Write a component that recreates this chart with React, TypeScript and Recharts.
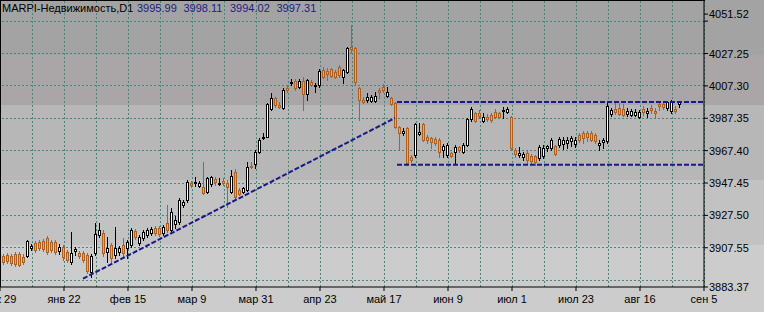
import React from "react";
import { Bar, ComposedChart, ReferenceLine, XAxis, YAxis } from "recharts";

// MARPI-Недвижимость, D1 — 170 daily bars, oldest first
const opens = [
  3902.6, 3903.2, 3902.6, 3903.9, 3903.9, 3902.0, 3902.6, 3907.6, 3910.6, 3911.3,
  3911.9, 3913.7, 3911.3, 3911.3, 3905.7, 3908.2, 3905.1, 3898.9, 3905.7, 3904.5,
  3904.5, 3903.2, 3892.8, 3904.5, 3915.6, 3916.8, 3905.1, 3909.4, 3903.2, 3905.1,
  3909.4, 3907.6, 3909.4, 3918.0, 3910.6, 3913.7, 3915.6, 3916.8, 3919.9, 3919.9,
  3916.8, 3923.0, 3918.6, 3922.3, 3923.6, 3934.0, 3937.1, 3947.6, 3947.6, 3945.7,
  3945.1, 3942.0, 3947.0, 3950.0, 3947.0, 3948.8, 3947.6, 3942.0, 3954.4, 3943.3,
  3942.0, 3943.3, 3958.0, 3959.3, 3966.7, 3975.3, 3975.9, 3993.1, 3999.9, 3995.6,
  3993.8, 4006.1, 4009.1, 4010.4, 4006.7, 4010.4, 4002.4, 4009.8, 4007.3, 4007.9,
  4017.2, 4016.5, 4017.8, 4015.9, 4019.0, 4012.8, 4015.9, 4031.3, 4030.7, 4006.1,
  3998.7, 3998.7, 3998.1, 3998.1, 4004.8, 4006.7, 4001.1, 3999.9, 3996.8, 3982.1,
  3978.4, 3981.4, 3963.6, 3964.8, 3977.7, 3983.9, 3975.9, 3975.3, 3974.7, 3974.1,
  3967.9, 3964.8, 3966.0, 3966.7, 3969.7, 3966.7, 3971.0, 3987.0, 3990.7, 3990.7,
  3985.8, 3988.2, 3989.4, 3991.3, 3990.7, 3991.9, 3991.3, 3988.2, 3967.9, 3964.8,
  3963.6, 3966.0, 3964.2, 3964.2, 3963.0, 3964.2, 3969.1, 3969.1, 3970.4, 3971.0,
  3971.6, 3972.2, 3973.4, 3971.6, 3977.1, 3978.4, 3978.4, 3978.4, 3977.1, 3971.0,
  3972.8, 3973.4, 3990.1, 3993.1, 3993.8, 3993.1, 3990.1, 3989.4, 3989.4, 3988.2,
  3993.1, 3990.7, 3993.8, 3991.9, 3996.2, 3996.2, 3993.8, 3991.9, 3993.1, 3995.99,
];
const highs = [
  3903.9, 3904.5, 3903.9, 3905.1, 3905.1, 3903.9, 3912.5, 3910.0, 3911.9, 3912.5,
  3913.1, 3914.9, 3912.5, 3912.5, 3910.0, 3909.4, 3906.3, 3917.4, 3908.2, 3905.7,
  3905.7, 3904.5, 3903.9, 3923.0, 3923.0, 3918.6, 3914.3, 3910.6, 3920.5, 3908.8,
  3913.7, 3912.5, 3919.9, 3919.3, 3915.6, 3918.6, 3919.9, 3920.5, 3921.1, 3921.1,
  3921.7, 3934.0, 3932.2, 3927.3, 3938.3, 3937.1, 3949.4, 3948.8, 3951.3, 3948.8,
  3960.5, 3951.3, 3951.9, 3951.3, 3950.7, 3950.7, 3949.4, 3955.6, 3956.2, 3944.5,
  3945.1, 3960.5, 3960.5, 3967.9, 3975.3, 3978.4, 3996.8, 4003.0, 4000.5, 3997.5,
  4006.1, 4007.9, 4011.6, 4011.6, 4011.6, 4012.8, 4011.6, 4011.0, 4009.1, 4017.8,
  4019.0, 4018.4, 4018.4, 4017.2, 4020.2, 4017.8, 4031.3, 4044.9, 4031.3, 4006.7,
  4000.5, 4003.0, 4001.8, 4003.6, 4006.1, 4008.5, 4006.7, 4000.5, 3997.5, 3982.7,
  3981.4, 3982.1, 3964.8, 3984.5, 3984.5, 3984.5, 3977.1, 3975.9, 3975.9, 3975.3,
  3971.6, 3972.2, 3966.7, 3971.0, 3970.4, 3972.2, 3987.6, 3994.4, 3991.3, 3992.5,
  3990.7, 3990.1, 3990.7, 3993.1, 3991.3, 3994.4, 3994.4, 3988.8, 3969.1, 3969.7,
  3966.7, 3967.3, 3965.4, 3964.8, 3971.0, 3971.0, 3971.0, 3975.3, 3971.0, 3975.9,
  3975.9, 3975.9, 3976.5, 3975.9, 3978.4, 3979.6, 3979.6, 3979.6, 3978.4, 3974.1,
  3975.3, 3998.1, 3993.8, 3996.8, 3996.8, 3996.2, 3993.8, 3993.1, 3993.1, 3992.5,
  3995.0, 3993.8, 3995.6, 3993.8, 3997.5, 3997.5, 3998.1, 3998.3, 3995.0, 3998.11,
];
const lows = [
  3897.7, 3898.3, 3897.1, 3896.5, 3896.5, 3897.7, 3902.0, 3906.3, 3905.1, 3906.3,
  3905.7, 3903.9, 3905.1, 3903.9, 3903.9, 3900.2, 3898.9, 3897.7, 3903.2, 3901.4,
  3898.9, 3892.2, 3889.7, 3903.2, 3914.3, 3902.6, 3898.9, 3898.9, 3901.4, 3903.2,
  3901.4, 3901.4, 3908.2, 3913.1, 3909.4, 3912.5, 3914.3, 3915.6, 3915.6, 3914.9,
  3915.6, 3917.4, 3916.8, 3919.9, 3922.3, 3932.8, 3935.9, 3945.1, 3945.7, 3945.1,
  3940.8, 3941.4, 3945.7, 3946.3, 3946.3, 3946.3, 3932.8, 3941.4, 3938.3, 3940.2,
  3941.4, 3942.7, 3956.8, 3956.8, 3966.0, 3974.7, 3975.9, 3992.5, 3994.4, 3993.8,
  3993.1, 4003.6, 4007.9, 4004.8, 4006.1, 3992.5, 3998.7, 4007.3, 4003.6, 4006.7,
  4012.2, 4011.0, 4012.8, 4012.2, 4012.8, 4009.1, 4015.3, 4028.2, 4007.9, 3986.4,
  3996.8, 3997.5, 3997.5, 3997.5, 3999.9, 4003.6, 4000.5, 3995.6, 3981.4, 3967.9,
  3977.1, 3958.7, 3960.5, 3963.6, 3977.1, 3973.4, 3972.2, 3969.1, 3971.0, 3963.6,
  3963.6, 3963.6, 3963.6, 3959.9, 3966.7, 3966.0, 3970.4, 3985.8, 3985.1, 3987.6,
  3985.1, 3985.8, 3985.1, 3987.6, 3987.9, 3987.6, 3990.7, 3967.9, 3963.6, 3963.6,
  3961.7, 3959.9, 3959.3, 3958.7, 3961.7, 3963.0, 3967.3, 3967.9, 3964.8, 3969.7,
  3968.5, 3969.1, 3970.4, 3969.7, 3972.8, 3972.2, 3973.4, 3973.4, 3972.2, 3967.9,
  3969.1, 3972.2, 3988.8, 3990.1, 3989.4, 3989.0, 3988.8, 3988.8, 3988.9, 3987.6,
  3989.4, 3988.2, 3990.7, 3987.6, 3992.5, 3993.1, 3992.5, 3990.7, 3990.7, 3994.02,
];
const closes = [
  3898.9, 3899.6, 3898.3, 3897.7, 3897.1, 3898.9, 3911.9, 3908.8, 3906.3, 3907.6,
  3906.9, 3905.1, 3906.3, 3905.1, 3908.2, 3902.0, 3900.2, 3904.5, 3906.9, 3902.6,
  3900.2, 3893.4, 3902.6, 3916.2, 3918.6, 3904.5, 3907.6, 3901.4, 3907.6, 3907.6,
  3904.5, 3911.3, 3918.6, 3914.3, 3914.3, 3917.4, 3918.6, 3919.3, 3916.8, 3916.2,
  3920.5, 3918.6, 3929.7, 3924.8, 3937.1, 3935.9, 3948.2, 3946.3, 3948.2, 3947.6,
  3941.4, 3950.7, 3951.3, 3948.2, 3947.6, 3947.6, 3945.1, 3951.9, 3939.0, 3940.8,
  3944.5, 3957.4, 3957.4, 3966.7, 3974.1, 3975.9, 3996.2, 3999.9, 3995.6, 3994.4,
  4004.8, 4004.8, 4009.8, 4006.1, 4010.4, 4002.4, 4011.0, 4007.9, 4007.9, 4016.5,
  4012.8, 4014.7, 4013.5, 4012.8, 4014.1, 4017.2, 4030.7, 4030.1, 4009.8, 3998.7,
  3997.5, 4000.5, 4000.5, 4001.1, 4003.6, 4004.8, 4003.6, 3996.2, 3982.1, 3978.4,
  3979.6, 3959.9, 3961.7, 3983.9, 3979.0, 3974.1, 3974.1, 3972.8, 3972.2, 3966.7,
  3970.4, 3971.0, 3964.2, 3969.7, 3967.9, 3971.0, 3987.0, 3993.1, 3985.8, 3988.8,
  3988.2, 3987.0, 3986.4, 3988.2, 3988.2, 3992.5, 3993.1, 3969.1, 3965.4, 3966.0,
  3965.4, 3961.7, 3961.1, 3960.5, 3969.7, 3969.1, 3970.4, 3974.1, 3965.4, 3974.7,
  3974.1, 3974.1, 3975.3, 3974.1, 3974.1, 3975.3, 3975.9, 3974.1, 3973.4, 3972.2,
  3974.1, 3995.0, 3992.5, 3991.3, 3990.1, 3989.4, 3991.9, 3991.9, 3991.3, 3991.3,
  3991.3, 3991.9, 3992.5, 3990.7, 3995.0, 3994.4, 3997.5, 3998.1, 3991.9, 3997.31,
];

// one label every 16 bars, starting at the chart's left edge
const dateLabels = ["дек 29", "янв 22", "фев 15", "мар 9", "мар 31", "апр 23", "май 17", "июн 9", "июл 1", "июл 23", "авг 16", "сен 5"];
const priceLabels = [4051.52, 4027.25, 4007.3, 3987.35, 3967.4, 3947.45, 3927.5, 3907.55, 3883.37];
const gridPrices = [4047.2, 4027.25, 4007.3, 3987.35, 3967.4, 3947.45, 3927.5, 3907.55, 3887.6];

// hand drawn objects: support trend line and the sideways channel
const trendLine = [
  { bar: 20, price: 3888.5 },
  { bar: 98, price: 3987.5 },
];
const channelStart = 98.5;
const channelTop = 3997.31;
const channelBottom = 3958.7;

const symbol = "MARPI-Недвижимость,D1";
const lastQuote = [3995.99, 3998.11, 3994.02, 3997.31];

const W = 764;
const H = 312;
const PLOT_R = 704;
const PLOT_B = 287;
const X_DOMAIN: [number, number] = [-0.75, 175.25];
const Y_DOMAIN: [number, number] = [3883.37, 4059.6];
const FONT = "'Liberation Sans', Arial, sans-serif";
const BEAR_FILL = "#f0a838";
const BEAR_EDGE = "#b0601e";
const LINE_BLUE = "#1a1a86";
const GRID = "#4f827d";

const rows = opens.map((o, i) => ({
  i,
  o,
  h: highs[i],
  l: lows[i],
  c: closes[i],
  range: [lows[i], highs[i]],
}));

const dateTicks = dateLabels.map((_, m) => m * 16 - 0.75);
const gridBars = Array.from({ length: 22 }, (_, n) => n * 8 + 7.25);
const yTicks = [...priceLabels, 4047.2];

function Candle(props: any) {
  const { x, y, width, height, payload } = props;
  if (!payload || x == null) return null;
  const { o, h, l, c } = payload;
  const cx = Math.round(x + width / 2);
  const k = h > l ? height / (h - l) : 0;
  const top = Math.round(y + (h - Math.max(o, c)) * k);
  const bot = Math.round(y + (h - Math.min(o, c)) * k);
  const up = c >= o;
  const edge = up ? "#000" : BEAR_EDGE;
  const fill = up ? "#fff" : BEAR_FILL;
  return (
    <g>
      <line x1={cx + 0.5} x2={cx + 0.5} y1={Math.round(y)} y2={Math.round(y + height) + 1} stroke={edge} strokeWidth={1} />
      {bot - top < 1 ? (
        <line x1={cx - 1} x2={cx + 2} y1={top + 0.5} y2={top + 0.5} stroke={edge} strokeWidth={1} />
      ) : (
        <rect x={cx - 0.5} y={top + 0.5} width={2} height={bot - top} fill={fill} stroke={edge} strokeWidth={1} />
      )}
    </g>
  );
}

function DateTick(props: any) {
  const { x, payload } = props;
  const m = Math.round((payload.value + 0.75) / 16);
  return (
    <text x={x} y={303} textAnchor="middle" fontSize={11} fontFamily={FONT} fill="#000">
      {dateLabels[m]}
    </text>
  );
}

function PriceTick(props: any) {
  const { y, payload } = props;
  if (!priceLabels.includes(payload.value)) return <g />;
  return (
    <text x={PLOT_R + 5} y={y + 4} textAnchor="start" fontSize={11} fontFamily={FONT} fill="#000">
      {payload.value.toFixed(2)}
    </text>
  );
}

export default function App() {
  const bg =
    "linear-gradient(to bottom, #a3a3a3 0px, #a3a3a3 55px, #aaa6a7 55px, #aaa6a7 105px, #b7b7b7 105px, #b7b7b7 180px, #c2c2c2 180px, #c2c2c2 245px, #cccccc 245px, #cccccc 312px)";
  const dashed = { stroke: LINE_BLUE, strokeWidth: 2, strokeDasharray: "5 2" };
  const gridStyle = { stroke: GRID, strokeWidth: 1, strokeDasharray: "2 2", shapeRendering: "crispEdges", zIndex: -50 } as any;
  return (
    <div style={{ position: "absolute", left: 0, top: 0, width: W, height: H, background: bg }}>
      <ComposedChart width={W} height={H} data={rows} margin={{ top: 1, right: 0, bottom: 0, left: 0 }}>
        <XAxis
          type="number"
          dataKey="i"
          domain={X_DOMAIN}
          ticks={dateTicks}
          interval={0}
          height={H - PLOT_B}
          tickSize={4}
          tick={<DateTick />}
          axisLine={{ stroke: "#000" }}
          tickLine={{ stroke: "#000" }}
          allowDataOverflow
        />
        <YAxis
          orientation="right"
          type="number"
          domain={Y_DOMAIN}
          ticks={yTicks}
          interval={0}
          width={W - PLOT_R}
          tickSize={4}
          tick={<PriceTick />}
          axisLine={{ stroke: "#000" }}
          tickLine={{ stroke: "#000" }}
          allowDataOverflow
        />
        {gridPrices.map((v) => (
          <ReferenceLine key={"h" + v} y={v} {...gridStyle} />
        ))}
        {gridBars.map((v) => (
          <ReferenceLine key={"v" + v} x={v} {...gridStyle} />
        ))}
        <Bar dataKey="range" barSize={4} shape={<Candle />} isAnimationActive={false} />
        <ReferenceLine
          segment={[
            { x: trendLine[0].bar, y: trendLine[0].price },
            { x: trendLine[1].bar, y: trendLine[1].price },
          ]}
          {...dashed}
        />
        <ReferenceLine
          segment={[
            { x: channelStart, y: channelTop },
            { x: X_DOMAIN[1], y: channelTop },
          ]}
          {...dashed}
        />
        <ReferenceLine
          segment={[
            { x: channelStart, y: channelBottom },
            { x: X_DOMAIN[1], y: channelBottom },
          ]}
          {...dashed}
        />
      </ComposedChart>
      <svg width={W} height={H} style={{ position: "absolute", left: 0, top: 0, pointerEvents: "none" }}>
        <line x1={0} x2={PLOT_R + 1} y1={0.5} y2={0.5} stroke="#000" />
        <line x1={0.5} x2={0.5} y1={0} y2={PLOT_B} stroke="#000" />
        <text x={2} y={12} fontSize={11} fontFamily={FONT} fill="#000">
          {symbol}
        </text>
        {lastQuote.map((v, j) => (
          <text key={j} x={137 + j * 46.5} y={12} fontSize={11} fontFamily={FONT} fill="#1c1c84">
            {v.toFixed(2)}
          </text>
        ))}
      </svg>
    </div>
  );
}
